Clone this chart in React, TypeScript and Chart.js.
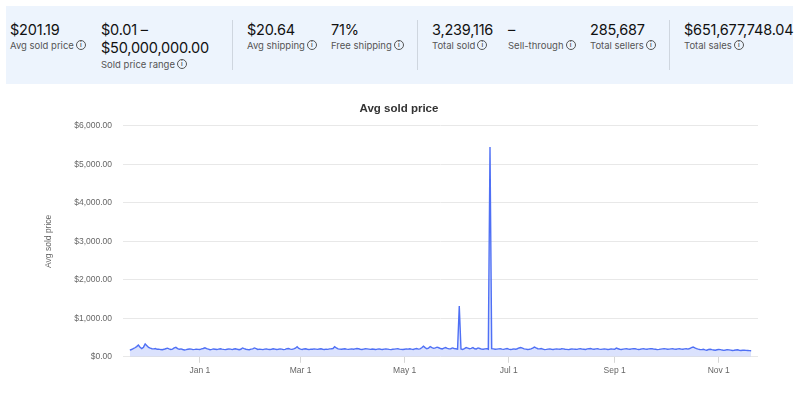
import React, { useEffect, useRef } from 'react';
import { Chart, registerables } from 'chart.js';

Chart.register(...registerables);

// Daily average sold price, Nov 21 -> Nov 20 (365 days)
const avgSoldPrice: number[] = [
  175, 190, 210, 235, 265, 305, 250, 215, 250, 335, 290, 245, 225, 210, 205, 215, 195, 200, 188, 182,
  195, 210, 225, 205, 190, 200, 230, 245, 215, 195, 205, 190, 178, 185, 196, 204, 198, 186, 192, 200,
  194, 188, 205, 215, 232, 210, 198, 185, 192, 204, 196, 188, 199, 210, 200, 192, 186, 195, 205, 198,
  188, 202, 210, 195, 184, 196, 230, 212, 196, 190, 185, 198, 205, 230, 215, 192, 200, 194, 186, 198,
  206, 194, 188, 196, 210, 200, 190, 196, 205, 198, 186, 192, 210, 215, 198, 192, 205, 224, 260, 215,
  198, 190, 204, 210, 196, 188, 200, 195, 205, 198, 192, 202, 208, 196, 190, 200, 194, 205, 210, 216,
  262, 230, 205, 198, 196, 204, 210, 198, 192, 200, 206, 195, 205, 215, 208, 196, 190, 200, 210, 205,
  198, 192, 203, 195, 188, 200, 205, 196, 190, 198, 206, 200, 192, 186, 195, 200, 205, 210, 200, 194,
  188, 196, 205, 200, 210, 198, 190, 206, 215, 200, 205, 236, 275, 240, 210, 225, 265, 240, 220, 232,
  250, 235, 215, 205, 226, 240, 220, 205, 210, 230, 215, 208, 200, 1320, 205, 190, 215, 240, 225, 210,
  220, 240, 210, 205, 230, 215, 200, 196, 205, 212, 198, 5450, 210, 205, 196, 200, 205, 210, 198, 192,
  205, 215, 200, 190, 196, 205, 198, 210, 230, 240, 225, 205, 198, 190, 196, 205, 226, 252, 230, 210,
  205, 215, 200, 186, 192, 200, 206, 196, 190, 198, 205, 200, 195, 210, 205, 196, 192, 186, 195, 205,
  200, 198, 192, 205, 210, 200, 195, 190, 205, 210, 215, 200, 196, 205, 210, 198, 192, 200, 206, 198,
  190, 196, 205, 200, 195, 225, 210, 196, 190, 198, 205, 210, 200, 196, 205, 210, 208, 198, 190, 196,
  205, 210, 200, 196, 205, 212, 208, 200, 195, 186, 192, 200, 205, 210, 206, 198, 200, 205, 210, 200,
  196, 205, 210, 200, 198, 205, 210, 200, 215, 236, 255, 230, 212, 198, 190, 186, 194, 180, 172, 190,
  196, 185, 178, 170, 182, 190, 186, 175, 168, 176, 186, 180, 172, 165, 170, 176, 182, 170, 164, 170,
  172, 168, 165, 160, 158,
];

// Day index (from Nov 21) of each labelled month start
const tickDays: number[] = [41, 100, 161, 222, 284, 345];
const tickLabels: string[] = ['Jan 1', 'Mar 1', 'May 1', 'Jul 1', 'Sep 1', 'Nov 1'];

const yMax = 6000;
const yStep = 1000;

const statValues: string[] = ['$201.19', '$0.01 –', '$20.64', '71%', '3,239,116', '–', '285,687', '$651,677,748.04'];
const statLabels: string[] = ['Avg sold price', 'Sold price range', 'Avg shipping', 'Free shipping', 'Total sold', 'Sell-through', 'Total sellers', 'Total sales'];
const rangeSecondLine = '$50,000,000.00';

const statX = [10, 101, 247, 331, 432, 508, 590, 684];
const dividerX = [232, 417, 669];

const FONT = 'Inter, "Noto Sans", sans-serif';
const CHART_FONT = '"Liberation Sans", Arial, sans-serif';

function InfoIcon() {
  return (
    <span
      style={{
        display: 'inline-block',
        width: 8,
        height: 8,
        border: '1px solid #555',
        borderRadius: '50%',
        fontSize: 6.5,
        lineHeight: '8px',
        textAlign: 'center',
        color: '#555',
        marginLeft: 2,
        verticalAlign: 'middle',
        boxSizing: 'content-box',
        fontFamily: FONT,
        fontWeight: 600,
        position: 'relative',
        top: -1,
      }}
    >
      i
    </span>
  );
}

export default function App() {
  const canvasRef = useRef<HTMLCanvasElement | null>(null);

  useEffect(() => {
    if (!canvasRef.current) return;
    const chart = new Chart(canvasRef.current, {
      type: 'line',
      data: {
        datasets: [
          {
            label: 'Avg sold price',
            data: avgSoldPrice.map((v, i) => ({ x: i, y: v })),
            borderColor: '#4f70f5',
            borderWidth: 1.4,
            backgroundColor: 'rgba(90,125,245,0.22)',
            fill: 'origin',
            pointRadius: 0,
            tension: 0,
          },
        ],
      },
      options: {
        animation: false,
        responsive: false,
        devicePixelRatio: 1,
        layout: { padding: { left: 40, right: 42, top: 0, bottom: 15 } },
        plugins: {
          legend: { display: false },
          tooltip: { enabled: false },
          title: {
            display: true,
            text: 'Avg sold price',
            color: '#333',
            font: { family: CHART_FONT, size: 11.5, weight: 'bold' },
            padding: { top: 12, bottom: 10 },
          },
        },
        scales: {
          x: {
            type: 'linear',
            min: -4,
            max: avgSoldPrice.length + 3,
            afterBuildTicks: (scale: any) => {
              scale.ticks = tickDays.map((d) => ({ value: d }));
            },
            ticks: {
              autoSkip: false,
              maxRotation: 0,
              color: '#666',
              padding: 3,
              font: { family: CHART_FONT, size: 8.5 },
              callback: (_v: any, i: number) => tickLabels[i],
            },
            grid: { drawOnChartArea: false, drawTicks: true, tickLength: 6, color: '#d6d6d6' },
            border: { display: false },
          },
          y: {
            type: 'linear',
            min: 0,
            max: yMax,
            afterFit: (scale: any) => {
              scale.width = 83;
            },
            ticks: {
              stepSize: yStep,
              color: '#666',
              padding: 11,
              font: { family: CHART_FONT, size: 8.5 },
              callback: (v: any) =>
                '$' + Number(v).toLocaleString('en-US', { minimumFractionDigits: 2, maximumFractionDigits: 2 }),
            },
            grid: { color: '#e8e8e8', drawTicks: false },
            border: { display: false },
            title: {
              display: true,
              text: 'Avg sold price',
              color: '#666',
              font: { family: CHART_FONT, size: 8.5 },
              padding: 4,
            },
          },
        },
      },
    });
    return () => chart.destroy();
  }, []);

  return (
    <div style={{ position: 'absolute', left: 0, top: 0, width: 800, height: 394, background: '#fff', overflow: 'hidden' }}>
      <div
        style={{
          position: 'absolute',
          left: 6,
          top: 6,
          width: 787,
          height: 78,
          background: '#edf4fd',
        }}
      />
      {dividerX.map((x, i) => (
        <div key={'d' + i} style={{ position: 'absolute', left: x, top: 20, width: 1, height: 50, background: '#cfd6df' }} />
      ))}
      {statValues.map((v, i) => (
        <div
          key={'v' + i}
          style={{
            position: 'absolute',
            left: statX[i],
            top: 22,
            fontFamily: FONT,
            fontSize: 14.5,
            lineHeight: '15px',
            letterSpacing: -0.2,
            color: '#111',
            whiteSpace: 'nowrap',
          }}
        >
          {v}
        </div>
      ))}
      <div
        style={{
          position: 'absolute',
          left: statX[1],
          top: 40,
          fontFamily: FONT,
          fontSize: 14.5,
          lineHeight: '15px',
          letterSpacing: -0.2,
          color: '#111',
          whiteSpace: 'nowrap',
        }}
      >
        {rangeSecondLine}
      </div>
      {statLabels.map((l, i) => (
        <div
          key={'l' + i}
          style={{
            position: 'absolute',
            left: statX[i],
            top: i === 1 ? 59 : 40,
            fontFamily: FONT,
            fontSize: 9.5,
            lineHeight: '11px',
            color: '#555',
            whiteSpace: 'nowrap',
          }}
        >
          {l}
          <InfoIcon />
        </div>
      ))}
      <div style={{ position: 'absolute', left: 0, top: 90, width: 800, height: 304 }}>
        <canvas ref={canvasRef} width={800} height={304} style={{ width: 800, height: 304, display: 'block' }} />
      </div>
    </div>
  );
}
